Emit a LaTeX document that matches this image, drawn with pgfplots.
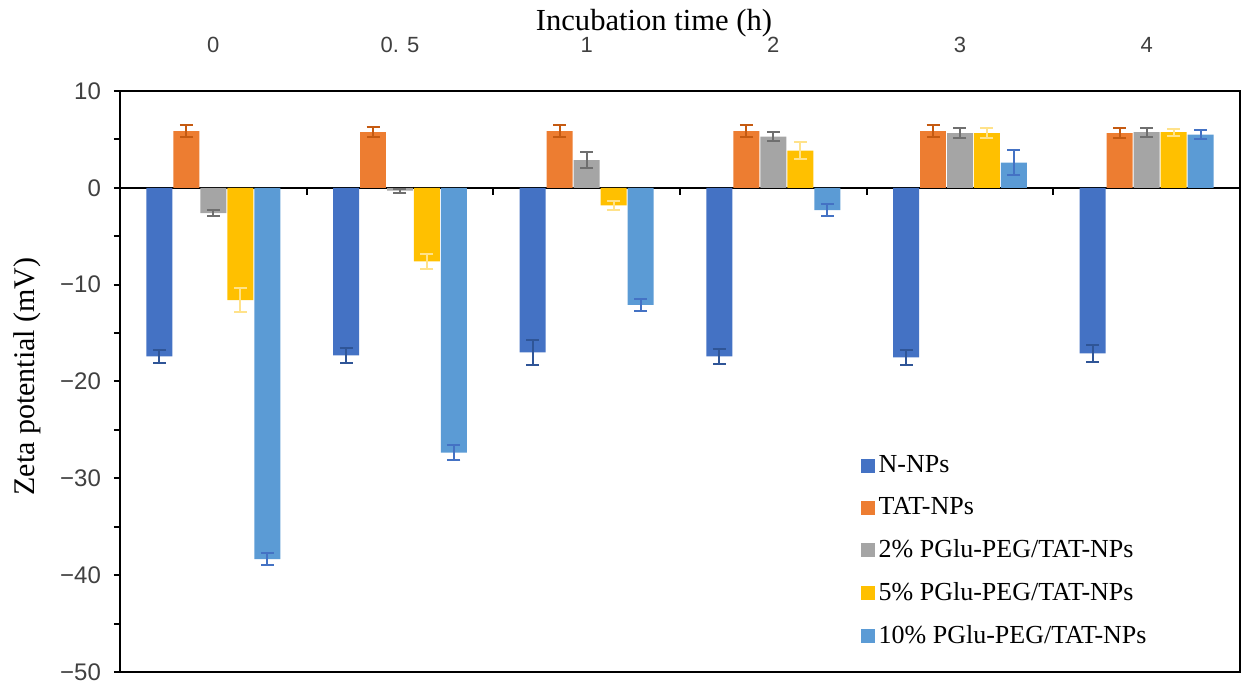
\documentclass[border=0pt]{standalone}
\usepackage{fontspec}
\setmainfont{Liberation Serif}
\setsansfont{Liberation Sans}
\usepackage{pgfplots}
\pgfplotsset{compat=1.18}
\definecolor{cN}{HTML}{4472C4}
\definecolor{cT}{HTML}{ED7D31}
\definecolor{cG}{HTML}{A5A5A5}
\definecolor{cY}{HTML}{FFC000}
\definecolor{cL}{HTML}{5B9BD5}
\definecolor{eN}{HTML}{2F5597}
\definecolor{eT}{HTML}{C55A11}
\definecolor{eG}{HTML}{6F6F6F}
\definecolor{eY}{HTML}{FFE28A}
\definecolor{eL}{HTML}{4472C4}
\definecolor{tickgray}{HTML}{404040}
\pgfplotsset{
  sq/.style={legend image code/.code={\fill[##1,draw=none] (0pt,-3.5pt) rectangle (7pt,3.5pt);}},
  eb/.style={/pgfplots/error bars/.cd, y dir=both, y explicit,
    error bar style={#1,line width=1pt},
    error mark options={rotate=90,mark size=3.25pt,line width=1pt,#1}, /pgfplots/.cd},
}
\begin{document}
\begin{tikzpicture}
\useasboundingbox (-60pt,-5.5pt) rectangle (563.5pt,336pt);
\begin{axis}[
  at={(0,0)}, anchor=south west,
  scale only axis, width=560pt, height=290.5pt,
  xmin=-0.5, xmax=5.5, ymin=-50, ymax=10,
  ybar, bar width=0.139,
  axis line style={line width=1pt, black},
  xtick={0,...,5}, xticklabels={0,{0. 5},1,2,3,4},
  xticklabel pos=upper,
  x tick style={draw=none},
  xticklabel style={font=\sffamily\fontsize{11}{13}\selectfont, text=tickgray, anchor=center, yshift=20pt},
  xlabel={Incubation time (h)},
  xlabel style={font=\fontsize{15.3}{17}\selectfont, at={(rel axis cs:0.5,1)}, anchor=center, yshift=34pt, xshift=-13pt},
  ytick={-50,-40,...,10}, yticklabels={−50,−40,−30,−20,−10,0,10},
  minor ytick={-45,-35,...,5},
  ytick pos=left, tick align=outside,
  major tick length=3pt, minor tick length=3pt,
  y tick style={line width=1pt, black},
  yticklabel style={font=\sffamily\fontsize{12}{14}\selectfont, text=tickgray, xshift=-3pt},
  ylabel={Zeta potential (mV)},
  ylabel style={font=\fontsize{15}{17}\selectfont, at={(rel axis cs:0,0.5)}, anchor=center, yshift=46.5pt, xshift=2.5pt},
  extra y ticks={0}, extra y tick labels={},
  extra y tick style={grid=major, major grid style={black,line width=1pt}, major tick length=0pt},
  legend style={at={(0.661,0.38)}, anchor=north west, draw=none, fill=none,
    font=\fontsize{13}{15}\selectfont, row sep=7pt, inner sep=0pt, cells={anchor=west}},
  legend cell align=left,
]
\addplot[fill=cN, draw=none, bar shift=-0.289, sq, eb=eN] coordinates {
  (0,-17.4) +- (0,0.7)  (1,-17.3) +- (0,0.75) (2,-17.0) +- (0,1.25)
  (3,-17.4) +- (0,0.75) (4,-17.5) +- (0,0.8)  (5,-17.1) +- (0,0.9)};
\addplot[fill=cT, draw=none, bar shift=-0.1445, sq, eb=eT] coordinates {
  (0,5.85) +- (0,0.6) (1,5.75) +- (0,0.55) (2,5.85) +- (0,0.6)
  (3,5.85) +- (0,0.6) (4,5.85) +- (0,0.6)  (5,5.65) +- (0,0.55)};
\addplot[fill=cG, draw=none, bar shift=0, sq, eb=eG] coordinates {
  (0,-2.6) +- (0,0.35) (1,-0.3) +- (0,0.2) (2,2.85) +- (0,0.85)
  (3,5.3) +- (0,0.45)  (4,5.65) +- (0,0.55) (5,5.75) +- (0,0.45)};
\addplot[fill=cY, draw=none, bar shift=0.1445, sq, eb=eY] coordinates {
  (0,-11.6) +- (0,1.25) (1,-7.6) +- (0,0.75) (2,-1.8) +- (0,0.45)
  (3,3.85) +- (0,0.85)  (4,5.65) +- (0,0.5)  (5,5.75) +- (0,0.35)};
\addplot[fill=cL, draw=none, bar shift=0.289, sq, eb=eL] coordinates {
  (0,-38.35) +- (0,0.6) (1,-27.35) +- (0,0.75) (2,-12.1) +- (0,0.65)
  (3,-2.3) +- (0,0.65)  (4,2.6) +- (0,1.3)     (5,5.5) +- (0,0.5)};
\legend{N-NPs,TAT-NPs,2\% PGlu-PEG/TAT-NPs,5\% PGlu-PEG/TAT-NPs,10\% PGlu-PEG/TAT-NPs}
\end{axis}
\foreach \k in {1,...,5}{
  \draw[line width=1pt, black] ({\k*560pt/6}, 242.08pt) -- ++(0,-3.5pt);
}
\end{tikzpicture}
\end{document}
